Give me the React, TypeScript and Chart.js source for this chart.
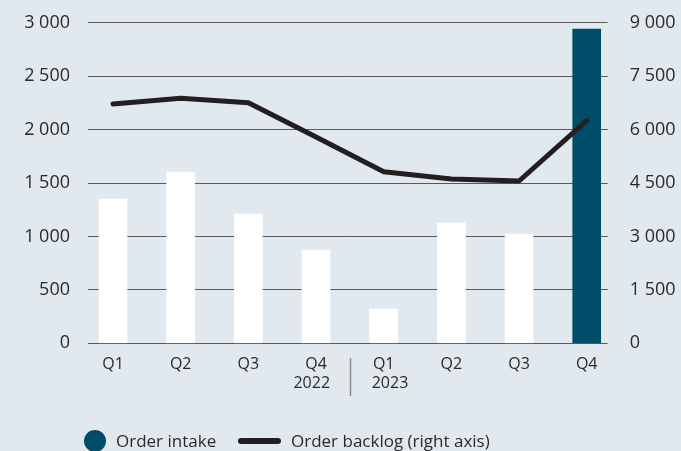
import React, { useEffect, useRef } from 'react';
import { Chart, registerables } from 'chart.js';

Chart.register(...registerables);

const quarters = ['Q1', 'Q2', 'Q3', 'Q4', 'Q1', 'Q2', 'Q3', 'Q4'];
const years = ['2022', '2023'];
const orderIntake = [1350, 1602, 1210, 873, 321, 1125, 1022, 2940];
const orderBacklog = [6718, 6878, 6754, 5791, 4817, 4612, 4556, 6249];
const legendLabels = ['Order intake', 'Order backlog (right axis)'];
const leftAxis = { min: 0, max: 3000, step: 500 };
const rightAxis = { min: 0, max: 9000, step: 1500 };

const BG = '#e1e9ef';
const DARK = '#004d69';
const LINE = '#231f20';
const TEXT = '#2a2a2a';
const FONT = '"Open Sans", sans-serif';

const fmt = (v: number) => String(v).replace(/\B(?=(\d{3})+(?!\d))/g, ' ');

const yearPlugin = {
  id: 'yearLabels',
  afterDraw(chart: any) {
    const x = chart.scales.x;
    const ctx = chart.ctx;
    ctx.save();
    ctx.font = `16px ${FONT}`;
    ctx.fillStyle = TEXT;
    ctx.textBaseline = 'middle';
    ctx.textAlign = 'right';
    ctx.fillText(years[0], x.getPixelForValue(3) + 14, 383);
    ctx.textAlign = 'left';
    ctx.fillText(years[1], x.getPixelForValue(4) - 12, 383);
    const sx = Math.round(x.getPixelForValue(3.5)) + 0.5;
    ctx.strokeStyle = '#8a8a8a';
    ctx.lineWidth = 1.5;
    ctx.beginPath();
    ctx.moveTo(sx, 358);
    ctx.lineTo(sx, 396);
    ctx.stroke();
    ctx.restore();
  },
};

const fixY = (width: number) => (s: any) => {
  s.width = width;
  s.paddingTop = 8;
  s.paddingBottom = 8;
};

export default function App() {
  const ref = useRef<HTMLCanvasElement | null>(null);

  useEffect(() => {
    if (!ref.current) return;
    const last = orderIntake.length - 1;
    const chart = new Chart(ref.current, {
      type: 'bar',
      data: {
        datasets: [
          {
            type: 'line',
            label: legendLabels[1],
            data: orderBacklog.map((v, i) => ({ x: i, y: v })),
            yAxisID: 'y1',
            borderColor: LINE,
            borderWidth: 5,
            borderCapStyle: 'round',
            borderJoinStyle: 'round',
            pointRadius: 0,
            tension: 0,
            order: 0,
          } as any,
          {
            type: 'bar',
            label: legendLabels[0],
            data: orderIntake.map((v, i) => ({ x: i, y: v })),
            yAxisID: 'y',
            backgroundColor: orderIntake.map((_, i) => (i === last ? DARK : '#ffffff')),
            borderWidth: 0,
            barThickness: 28,
            order: 1,
          } as any,
        ],
      },
      options: {
        responsive: false,
        animation: false,
        devicePixelRatio: 1,
        layout: { padding: { top: 22.7, left: 0, right: 0, bottom: 0 } },
        plugins: { legend: { display: false }, tooltip: { enabled: false } },
        scales: {
          x: {
            type: 'linear',
            offset: false,
            min: -0.37,
            max: 7.31,
            grid: { display: false },
            border: { display: false },
            ticks: {
              stepSize: 1,
              includeBounds: false,
              autoSkip: false,
              maxRotation: 0,
              padding: 4,
              color: TEXT,
              font: { family: FONT, size: 16 },
              callback: (v: any) => {
                const n = Number(v);
                return Number.isInteger(n) && n >= 0 && n < quarters.length ? quarters[n] : '';
              },
            },
            afterFit: (s: any) => {
              s.height = 107.7;
            },
          },
          y: {
            position: 'left',
            min: leftAxis.min,
            max: leftAxis.max,
            grid: { color: '#5a5a5a', lineWidth: 1, drawTicks: false },
            border: { display: false },
            ticks: {
              stepSize: leftAxis.step,
              padding: 18,
              color: TEXT,
              font: { family: FONT, size: 18 },
              callback: (v: any) => fmt(Number(v)),
            },
            afterFit: fixY(88),
          },
          y1: {
            position: 'right',
            min: rightAxis.min,
            max: rightAxis.max,
            grid: { drawOnChartArea: false, drawTicks: false },
            border: { display: false },
            ticks: {
              stepSize: rightAxis.step,
              padding: 22,
              color: TEXT,
              font: { family: FONT, size: 18 },
              callback: (v: any) => fmt(Number(v)),
            },
            afterFit: fixY(73.3),
          },
        },
      },
      plugins: [yearPlugin],
    } as any);
    return () => chart.destroy();
  }, []);

  const textStyle: React.CSSProperties = {
    position: 'absolute',
    top: 429,
    fontFamily: FONT,
    fontSize: 17,
    lineHeight: '24px',
    color: TEXT,
    whiteSpace: 'nowrap',
  };

  return (
    <div style={{ position: 'fixed', left: 0, top: 0, width: 681, height: 451, background: BG, overflow: 'hidden' }}>
      <canvas ref={ref} width={681} height={451} style={{ position: 'absolute', left: 0, top: 0 }} />
      <div style={{ position: 'absolute', left: 84, top: 430, width: 22, height: 22, borderRadius: '50%', background: DARK }} />
      <div style={{ ...textStyle, left: 116 }}>{legendLabels[0]}</div>
      <div style={{ position: 'absolute', left: 238, top: 438, width: 43, height: 6, borderRadius: 3, background: LINE }} />
      <div style={{ ...textStyle, left: 291 }}>{legendLabels[1]}</div>
    </div>
  );
}
